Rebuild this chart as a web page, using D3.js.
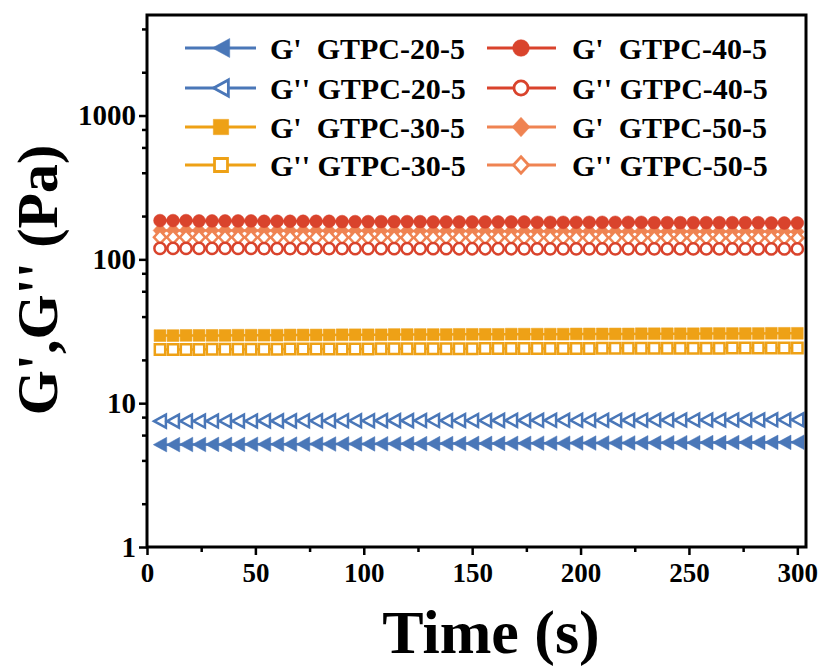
<!DOCTYPE html>
<html>
<head>
<meta charset="utf-8">
<script src="https://cdn.jsdelivr.net/npm/d3@7"></script>
<style>
  html, body { margin: 0; padding: 0; background: #ffffff; }
  svg { display: block; }
  text { font-family: "Liberation Serif", "Times New Roman", serif; font-weight: bold; fill: #000; }
</style>
</head>
<body>
<svg id="chart" width="820" height="671"></svg>
<script>
// ---------------- DATA ----------------
const time = [6,12,18,24,30,36,42,48,54,60,66,72,78,84,90,96,102,108,114,120,
  126,132,138,144,150,156,162,168,174,180,186,192,198,204,210,216,222,228,234,240,
  246,252,258,264,270,276,282,288,294,300];

const g20Storage = [5.15,5.15,5.16,5.16,5.17,5.17,5.17,5.18,5.18,5.19,
  5.19,5.19,5.20,5.20,5.21,5.21,5.21,5.22,5.22,5.23,
  5.23,5.23,5.24,5.24,5.25,5.25,5.25,5.26,5.26,5.27,
  5.27,5.27,5.28,5.28,5.29,5.29,5.29,5.30,5.30,5.31,
  5.31,5.31,5.32,5.32,5.33,5.33,5.33,5.34,5.34,5.35];
const g20Loss = [7.50,7.50,7.51,7.51,7.51,7.52,7.52,7.52,7.53,7.53,
  7.53,7.54,7.54,7.54,7.55,7.55,7.55,7.56,7.56,7.56,
  7.57,7.57,7.57,7.58,7.58,7.58,7.59,7.59,7.59,7.60,
  7.60,7.60,7.61,7.61,7.61,7.62,7.62,7.62,7.63,7.63,
  7.63,7.64,7.64,7.64,7.65,7.65,7.65,7.66,7.66,7.66];
const g30Storage = [29.5,29.5,29.6,29.6,29.6,29.6,29.7,29.7,29.7,29.7,
  29.8,29.8,29.8,29.8,29.9,29.9,29.9,29.9,30.0,30.0,
  30.0,30.0,30.0,30.1,30.1,30.1,30.1,30.2,30.2,30.2,
  30.2,30.2,30.3,30.3,30.3,30.3,30.3,30.4,30.4,30.4,
  30.4,30.4,30.5,30.5,30.5,30.5,30.5,30.6,30.6,30.6];
const g30Loss = [23.6,23.6,23.6,23.6,23.7,23.7,23.7,23.7,23.7,23.7,
  23.8,23.8,23.8,23.8,23.8,23.8,23.8,23.9,23.9,23.9,
  23.9,23.9,23.9,23.9,23.9,24.0,24.0,24.0,24.0,24.0,
  24.0,24.0,24.0,24.0,24.1,24.1,24.1,24.1,24.1,24.1,
  24.1,24.1,24.1,24.1,24.2,24.2,24.2,24.2,24.2,24.2];
const g40Storage = [186,186,186,185,185,185,185,185,184,184,
  184,184,184,184,183,183,183,183,183,183,
  183,182,182,182,182,182,182,182,182,181,
  181,181,181,181,181,181,181,181,180,180,
  180,180,180,180,180,180,180,179,179,179];
const g40Loss = [119.2,119.2,119.1,119.1,119.1,119.0,119.0,119.0,118.9,118.9,
  118.9,118.8,118.8,118.8,118.8,118.7,118.7,118.7,118.7,118.6,
  118.6,118.6,118.6,118.5,118.5,118.5,118.5,118.5,118.4,118.4,
  118.4,118.4,118.4,118.3,118.3,118.3,118.3,118.3,118.3,118.2,
  118.2,118.2,118.2,118.2,118.2,118.1,118.1,118.1,118.1,118.1];
const g50Storage = [159,159,159,159,159,158.8,158.7,158.6,158.5,158.4,
  158.3,158.2,158.1,158.0,157.9,157.8,157.8,157.7,157.6,157.5,
  157.5,157.4,157.3,157.2,157.2,157.1,157.0,157.0,156.9,156.8,
  156.8,156.7,156.7,156.6,156.5,156.5,156.4,156.4,156.3,156.3,
  156.2,156.2,156.1,156.1,156.0,156.0,155.9,155.9,155.8,155.8];
const g50Loss = [142.5,142.4,142.4,142.3,142.3,142.2,142.2,142.1,142.1,142.0,
  142.0,141.9,141.9,141.9,141.8,141.8,141.7,141.7,141.7,141.6,
  141.6,141.6,141.5,141.5,141.5,141.4,141.4,141.4,141.3,141.3,
  141.3,141.3,141.2,141.2,141.2,141.2,141.1,141.1,141.1,141.1,
  141.0,141.0,141.0,141.0,141.0,140.9,140.9,140.9,140.9,140.9];

const seriesNames = ["G'  GTPC-20-5","G'' GTPC-20-5","G'  GTPC-30-5","G'' GTPC-30-5",
                     "G'  GTPC-40-5","G'' GTPC-40-5","G'  GTPC-50-5","G'' GTPC-50-5"];
const seriesValues = [g20Storage, g20Loss, g30Storage, g30Loss, g40Storage, g40Loss, g50Storage, g50Loss];
const xTicks = [0,50,100,150,200,250,300];
const xMinorTicks = [25,75,125,175,225,275];
const yTicks = [1,10,100,1000];
const yMinorTicks = [2,4,6,8,20,40,60,80,200,400,600,800,2000,4000];

// ---------------- STYLE ----------------
const colors = ["#4A77B8","#4A77B8","#EEA116","#EEA116","#D9432C","#D9432C","#EF8352","#EF8352"];
const shapes = ["triangle","triangle","square","square","circle","circle","diamond","diamond"];
const filled = [true,false,true,false,true,false,true,false];

const svg = d3.select("#chart");
const L = 147, R = 806, T = 15, B = 547;
const x = d3.scaleLinear().domain([0,304]).range([L,R]);
const y = d3.scaleLog().domain([1,5000]).range([B,T]);

function shapePath(type, s) {
  const p = d3.path();
  if (type === "circle") { p.arc(0,0,6.4*s,0,2*Math.PI); }
  else if (type === "square") { const h=5.9*s; p.rect(-h,-h,2*h,2*h); }
  else if (type === "diamond") { const w=6.9*s, h=7.5*s; p.moveTo(0,-h); p.lineTo(w,0); p.lineTo(0,h); p.lineTo(-w,0); p.closePath(); }
  else if (type === "triangle") { const w=6.7*s, h=7.3*s; p.moveTo(-w,0); p.lineTo(w,-h); p.lineTo(w,h); p.closePath(); }
  return p.toString();
}

// axes
const ax = svg.append("g");
ax.append("g").attr("transform",`translate(0,${B})`)
  .call(d3.axisBottom(x).tickValues(xTicks).tickSize(8).tickPadding(8).tickFormat(d3.format("d")))
  .call(g => { g.select(".domain").remove(); g.selectAll("line").attr("stroke","#000").attr("stroke-width",2.5);
               g.selectAll("text").style("font-size","27px").attr("fill","#000"); });
ax.append("g").attr("transform",`translate(0,${B})`)
  .call(d3.axisBottom(x).tickValues(xMinorTicks).tickSize(5).tickFormat(""))
  .call(g => { g.select(".domain").remove(); g.selectAll("line").attr("stroke","#000").attr("stroke-width",2.5); });
ax.append("g").attr("transform",`translate(${L},0)`)
  .call(d3.axisLeft(y).tickValues(yTicks).tickSize(8).tickPadding(3).tickFormat(d3.format("d")))
  .call(g => { g.select(".domain").remove(); g.selectAll("line").attr("stroke","#000").attr("stroke-width",2.5);
               g.selectAll("text").style("font-size","29px").attr("fill","#000"); });
ax.append("g").attr("transform",`translate(${L},0)`)
  .call(d3.axisLeft(y).tickValues(yMinorTicks).tickSize(5).tickFormat(""))
  .call(g => { g.select(".domain").remove(); g.selectAll("line").attr("stroke","#000").attr("stroke-width",2.5); });

// series
const order = [0,1,2,3,6,7,4,5];
const line = d3.line().x(d => x(d[0])).y(d => y(d[1]));
const plot = svg.append("g");
order.forEach(i => {
  const pts = time.map((t,k) => [t, seriesValues[i][k]]);
  plot.append("path").attr("d", line(pts)).attr("fill","none").attr("stroke",colors[i]).attr("stroke-width",2.5);
  plot.selectAll(null).data(pts).enter().append("path")
    .attr("transform", d => `translate(${x(d[0])},${y(d[1])})`)
    .attr("d", shapePath(shapes[i], filled[i] ? 1 : 0.88))
    .attr("fill", filled[i] ? colors[i] : "#fff")
    .attr("stroke", colors[i]).attr("stroke-width", filled[i] ? 0.5 : 2.5);
});

// frame
svg.append("rect").attr("x",L).attr("y",T).attr("width",R-L).attr("height",B-T)
  .attr("fill","none").attr("stroke","#000").attr("stroke-width",3);

// legend
const legRows = [48,88,127,165];
const legCols = [{x0:185,x1:256,m:221,t:270},{x0:487,x1:556,m:521,t:572}];
const legendOrder = [0,1,2,3,4,5,6,7];
legendOrder.forEach((i,k) => {
  const c = legCols[Math.floor(k/4)], ry = legRows[k%4];
  const g = svg.append("g");
  g.append("line").attr("x1",c.x0).attr("x2",c.x1).attr("y1",ry).attr("y2",ry)
    .attr("stroke",colors[i]).attr("stroke-width",3.2);
  g.append("path").attr("transform",`translate(${c.m},${ry})`)
    .attr("d", shapePath(shapes[i], filled[i] ? 1.3 : 1.1))
    .attr("fill", filled[i] ? colors[i] : "#fff")
    .attr("stroke", colors[i]).attr("stroke-width", filled[i] ? 0.5 : 2.8);
  g.append("text").attr("x",c.t).attr("y",ry).attr("dy","0.35em")
    .style("font-size","30px").style("white-space","pre").attr("xml:space","preserve")
    .text(seriesNames[i]);
});

// axis titles
svg.append("text").attr("x", 491).attr("y", 653).attr("text-anchor","middle")
  .style("font-size","62px").text("Time (s)");
svg.append("text").attr("transform","translate(57,280) rotate(-90)").attr("text-anchor","middle")
  .style("font-size","58px").text("G',G'' (Pa)");
</script>
</body>
</html>
